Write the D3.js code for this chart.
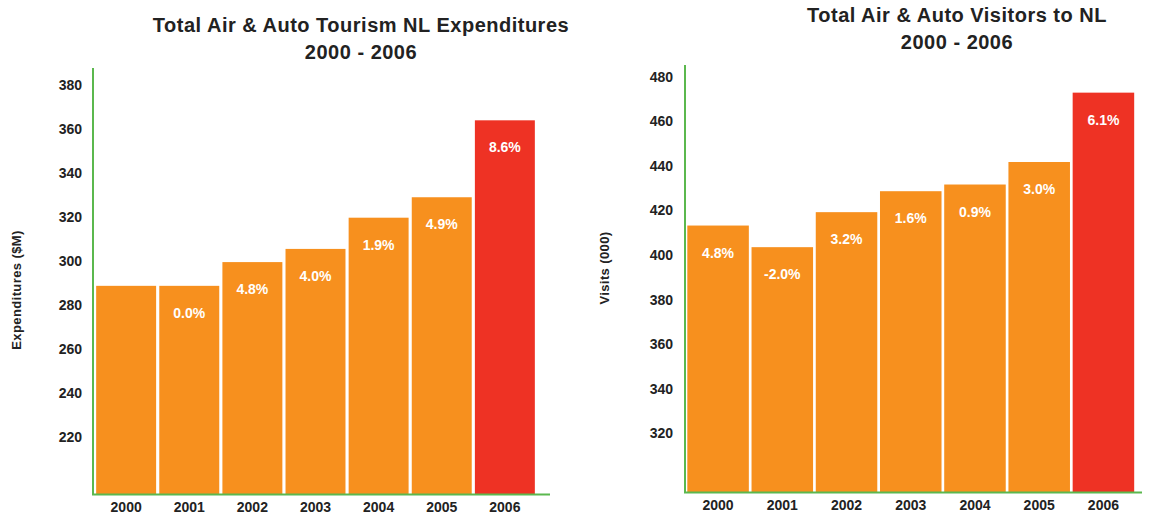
<!DOCTYPE html>
<html>
<head>
<meta charset="utf-8">
<script src="https://cdn.jsdelivr.net/npm/d3@7"></script>
<style>
  html, body { margin: 0; padding: 0; background: #ffffff; }
  svg { display: block; }
  text { font-family: "Liberation Sans", Arial, Helvetica, sans-serif; font-weight: bold; }
</style>
</head>
<body>
<svg id="chart" width="1152" height="514"></svg>
<script>
// Years shared by both panels
const years = ["2000", "2001", "2002", "2003", "2004", "2005", "2006"];

// Tourism expenditures ($M) and year-over-year change labels
const expenditures = [288.6, 288.6, 299.4, 305.4, 319.6, 328.9, 363.9];
const expenditureChange = ["", "0.0%", "4.8%", "4.0%", "1.9%", "4.9%", "8.6%"];
const expenditureTicks = [220, 240, 260, 280, 300, 320, 340, 360, 380];

// Visitors (000) and year-over-year change labels
const visitors = [413.2, 403.5, 419.2, 428.6, 431.6, 441.7, 472.8];
const visitorChange = ["4.8%", "-2.0%", "3.2%", "1.6%", "0.9%", "3.0%", "6.1%"];
const visitorTicks = [320, 340, 360, 380, 400, 420, 440, 460, 480];

const ORANGE = "#f7901e";
const RED = "#ee3224";
const GREEN = "#5bb84e";
const INK = "#222222";

const svg = d3.select("#chart");

function drawPanel(cfg) {
  const g = svg.append("g");

  const x = d3.scaleBand()
    .domain(years)
    .range(cfg.xRange)
    .paddingInner(cfg.padInner)
    .paddingOuter(cfg.padOuter);

  const y = d3.scaleLinear()
    .domain(cfg.yDomain)
    .range(cfg.yRange);

  const [x0] = cfg.xRange;
  const yBottom = cfg.yRange[0];

  // bars
  g.selectAll("rect.bar")
    .data(cfg.values)
    .join("rect")
    .attr("class", "bar")
    .attr("x", (d, i) => x(years[i]))
    .attr("width", x.bandwidth())
    .attr("y", d => y(d))
    .attr("height", d => yBottom - y(d))
    .attr("fill", (d, i) => i === years.length - 1 ? RED : ORANGE);

  // change labels inside bars
  g.selectAll("text.pct")
    .data(cfg.values)
    .join("text")
    .attr("class", "pct")
    .attr("x", (d, i) => x(years[i]) + x.bandwidth() / 2)
    .attr("y", d => y(d) + 32)
    .attr("text-anchor", "middle")
    .attr("fill", "#ffffff")
    .attr("font-size", 14)
    .text((d, i) => cfg.labels[i]);

  // y axis
  const yAxis = g.append("g")
    .attr("transform", `translate(${x0},0)`)
    .call(d3.axisLeft(y).tickValues(cfg.ticks).tickSize(0).tickPadding(cfg.tickPad).tickFormat(d3.format("d")));
  yAxis.select(".domain").remove();
  yAxis.selectAll("text")
    .attr("font-size", 14)
    .attr("font-family", "Liberation Sans, Arial, sans-serif")
    .attr("font-weight", "bold")
    .attr("fill", INK);

  // x axis
  const xAxis = g.append("g")
    .attr("transform", `translate(0,${yBottom})`)
    .call(d3.axisBottom(x).tickSize(0).tickPadding(8));
  xAxis.select(".domain").remove();
  xAxis.selectAll("text")
    .attr("font-size", 14)
    .attr("font-family", "Liberation Sans, Arial, sans-serif")
    .attr("font-weight", "bold")
    .attr("fill", INK);

  // green axis lines
  g.append("line")
    .attr("x1", x0).attr("x2", x0)
    .attr("y1", cfg.yRange[1]).attr("y2", yBottom + 1)
    .attr("stroke", GREEN).attr("stroke-width", 2);
  g.append("line")
    .attr("x1", x0 - 1).attr("x2", cfg.axisEnd)
    .attr("y1", yBottom + 0.5).attr("y2", yBottom + 0.5)
    .attr("stroke", GREEN).attr("stroke-width", 2);

  // y axis title
  g.append("text")
    .attr("transform", `translate(${cfg.yTitlePos[0]},${cfg.yTitlePos[1]}) rotate(-90)`)
    .attr("text-anchor", "middle")
    .attr("font-size", 13)
    .attr("letter-spacing", 0.4)
    .attr("fill", INK)
    .text(cfg.yTitle);

  // chart title
  const title = g.append("text")
    .attr("text-anchor", "middle")
    .attr("font-size", 20)
    .attr("letter-spacing", 0.5)
    .attr("fill", INK);
  cfg.title.forEach((line, i) => {
    title.append("tspan")
      .attr("x", cfg.titlePos[0])
      .attr("y", cfg.titlePos[1] + i * 26.5)
      .text(line);
  });
}

drawPanel({
  values: expenditures,
  labels: expenditureChange,
  ticks: expenditureTicks,
  xRange: [93, 538],
  padInner: 0.05,
  padOuter: 0.05,
  yDomain: [193.9, 387.7],
  yRange: [494, 68],
  tickPad: 11,
  axisEnd: 550,
  yTitle: "Expenditures ($M)",
  yTitlePos: [21, 290],
  title: ["Total Air & Auto Tourism NL Expenditures", "2000 - 2006"],
  titlePos: [361, 32]
});

drawPanel({
  values: visitors,
  labels: visitorChange,
  ticks: visitorTicks,
  xRange: [685, 1136.5],
  padInner: 0.042,
  padOuter: 0.036,
  yDomain: [293.7, 485.2],
  yRange: [492, 65],
  tickPad: 12,
  axisEnd: 1142,
  yTitle: "Visits (000)",
  yTitlePos: [609, 268],
  title: ["Total Air & Auto Visitors to NL", "2000 - 2006"],
  titlePos: [957, 22]
});
</script>
</body>
</html>
